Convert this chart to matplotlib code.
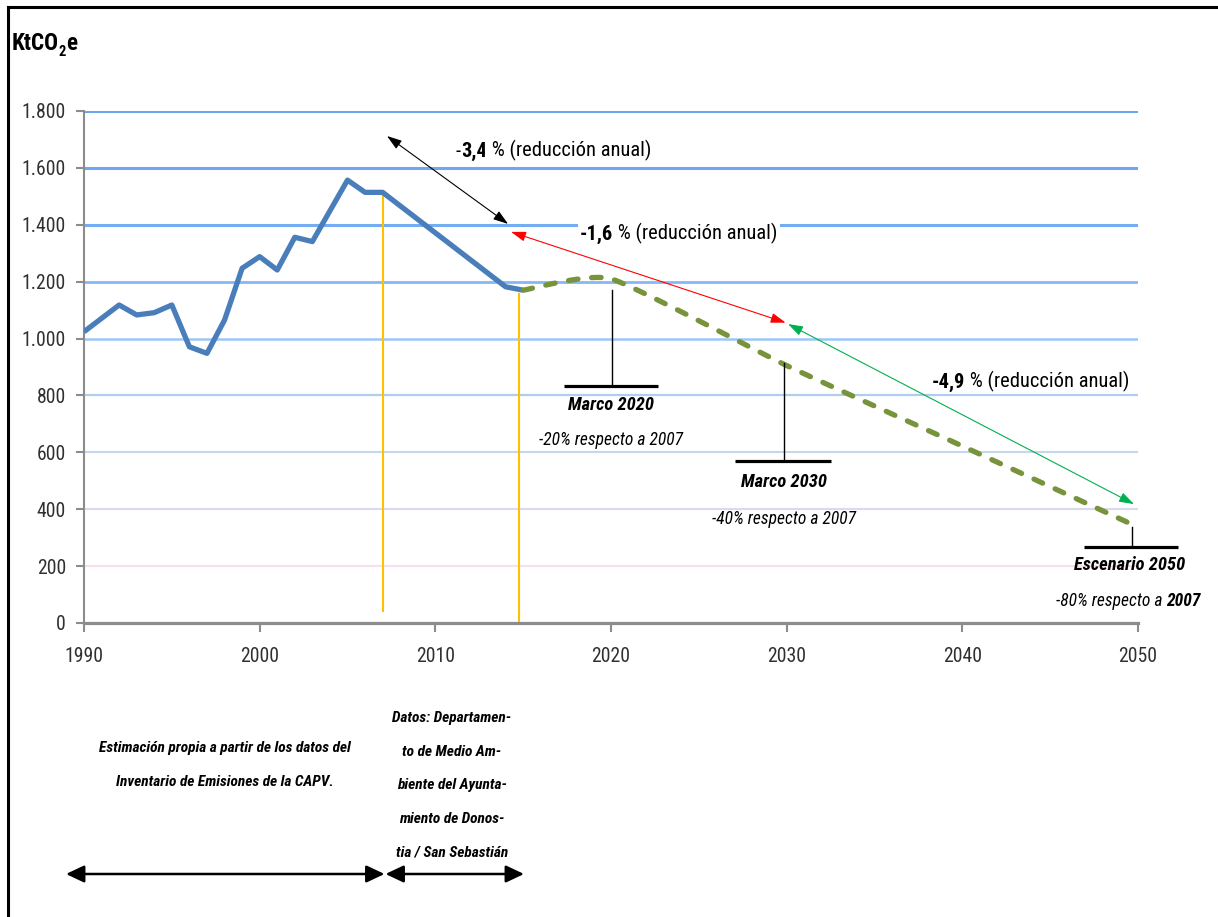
import matplotlib
matplotlib.use("Agg")
import matplotlib.pyplot as plt
from matplotlib import font_manager as fm
from matplotlib.transforms import Affine2D
from matplotlib.lines import Line2D
from matplotlib.patches import FancyArrowPatch
import numpy as np

# ---------------- data ----------------
hist_years = [1990, 1991, 1992, 1993, 1994, 1995, 1996, 1997, 1998, 1999,
              2000, 2001, 2002, 2003, 2005, 2006, 2007, 2014, 2015]
hist_values = [1024, 1071, 1118, 1083, 1091, 1118, 971, 948, 1065, 1247,
               1288, 1241, 1356, 1341, 1557, 1514, 1514, 1182, 1170]

proj_years = [2015, 2020, 2030, 2040, 2050]
proj_values = [1170, 1210, 905, 622, 337]

y_ticks = [0, 200, 400, 600, 800, 1000, 1200, 1400, 1600, 1800]
y_tick_labels = ["0", "200", "400", "600", "800", "1.000", "1.200", "1.400", "1.600", "1.800"]
x_ticks = [1990, 2000, 2010, 2020, 2030, 2040, 2050]
x_tick_labels = ["1990", "2000", "2010", "2020", "2030", "2040", "2050"]

marker_years = [2007, 2014.75]          # yellow reference verticals

# ---------------- style ----------------
# grid colour / width for 200 ... 1800
grid_colors = ["#f7dff0", "#d9d9f1", "#c6d6ec", "#afcdee", "#9cc6f6",
               "#85b8f5", "#75adf2", "#6ea8f0", "#6aa5ee"]
grid_widths = [1.5, 1.5, 1.5, 1.6, 1.8, 2.0, 2.2, 2.2, 2.2]

ttf = fm.fontManager.ttflist
names = {f.name for f in ttf}
cond = {f.name for f in ttf if str(f.stretch) in
        ("condensed", "semi-condensed", "extra-condensed", "ultra-condensed")}
if "Liberation Sans Narrow" in names:
    FONT, K, STRETCH = "Liberation Sans Narrow", 1.0, "normal"
elif "Roboto Condensed" in names:
    FONT, K, STRETCH = "Roboto Condensed", 0.95, "normal"
elif "Noto Sans" in cond:
    FONT, K, STRETCH = "Noto Sans", 0.9, "condensed"
elif "Open Sans" in cond:
    FONT, K, STRETCH = "Open Sans", 0.9, "condensed"
elif "DejaVu Sans" in cond:
    FONT, K, STRETCH = "DejaVu Sans", 0.84, "condensed"
else:
    FONT, K, STRETCH = "Liberation Sans", 0.88, "normal"
FAM = [FONT, "DejaVu Sans"]
plt.rcParams["font.family"] = FAM
plt.rcParams["font.stretch"] = STRETCH

W, H = 1218, 917
fig = plt.figure(figsize=(W / 100, H / 100), dpi=100)
fig.patch.set_facecolor("white")

# pixel-space transform for layout text (origin top-left)
T = Affine2D().scale(1 / W, -1 / H).translate(0, 1) + fig.transFigure

ax = fig.add_axes([84 / W, 1 - 623 / H, (1138 - 84) / W, (623 - 111) / H])
ax.set_xlim(1990, 2050)
ax.set_ylim(0, 1800)
ax.set_facecolor("none")

for s in ["top", "right"]:
    ax.spines[s].set_visible(False)
ax.spines["left"].set_color("#8c8c8c")
ax.spines["left"].set_linewidth(1.5)
ax.spines["bottom"].set_color("#8c8c8c")
ax.spines["bottom"].set_linewidth(2.3)

ax.set_yticks(y_ticks)
ax.set_yticklabels(y_tick_labels)
ax.set_xticks(x_ticks)
ax.set_xticklabels(x_tick_labels)
ax.tick_params(axis="y", length=6, width=1.5, color="#8c8c8c", pad=7,
               labelsize=15 * K, labelcolor="#303030")
ax.tick_params(axis="x", length=6.5, width=1.5, color="#8c8c8c", pad=11,
               labelsize=15 * K, labelcolor="#303030")

# horizontal grid
for yv, c, lw in zip(y_ticks[1:], grid_colors, grid_widths):
    ax.axhline(yv, color=c, lw=lw, zorder=0.5, solid_capstyle="butt")

# yellow reference verticals
ax.vlines(marker_years[0], 40, hist_values[hist_years.index(2007)], color="#ffc000", lw=1.5, zorder=2)
ax.vlines(marker_years[1], 0, 1160, color="#ffc000", lw=1.5, zorder=2)

# historical emissions
ax.plot(hist_years, hist_values, color="#4a7ebb", lw=3.8, zorder=4,
        solid_joinstyle="round", solid_capstyle="butt")


# projected path, lightly smoothed like a spreadsheet curve
def smooth(xs, ys, n=30, tension=12.0):
    pts = ax.transData.transform(np.column_stack([xs, ys]))
    P = np.vstack([pts[0], pts, pts[-1]])
    out = []
    for i in range(1, len(P) - 2):
        p0, p1, p2, p3 = P[i - 1], P[i], P[i + 1], P[i + 2]
        b1 = p1 + (p2 - p0) / tension
        b2 = p2 - (p3 - p1) / tension
        t = np.linspace(0, 1, n)[:, None]
        seg = ((1 - t) ** 3) * p1 + 3 * ((1 - t) ** 2) * t * b1 + 3 * (1 - t) * t ** 2 * b2 + t ** 3 * p2
        out.append(seg if i == 1 else seg[1:])
    return ax.transData.inverted().transform(np.vstack(out))


sm = smooth(proj_years, proj_values)
ax.plot(sm[:, 0], sm[:, 1], color="#77933c", lw=3.8, zorder=4,
        dashes=(1.8, 2.6), dash_capstyle="round")


# rate arrows
def dbl_arrow(p0, p1, color):
    ax.annotate("", xy=p1, xytext=p0, xycoords="data",
                arrowprops=dict(arrowstyle="<|-|>,head_length=0.6,head_width=0.2",
                                color=color, lw=0.8, shrinkA=0, shrinkB=0,
                                mutation_scale=15), zorder=6, annotation_clip=False)


dbl_arrow((2007.25, 1712), (2014.14, 1403), "black")
dbl_arrow((2014.31, 1375), (2029.94, 1056), "#ff0000")
dbl_arrow((2030.08, 1051), (2049.77, 418), "#00b050")


def chain(x, y, parts, size, bg=False, color="black"):
    """Draw consecutive text runs (text, weight, style) on one baseline."""
    bbox = dict(facecolor="white", edgecolor="none", pad=1.5) if bg else None
    prev = None
    for txt, wt, st in parts:
        if prev is None:
            prev = fig.text(x, y, txt, transform=T, ha="left", va="baseline",
                            fontsize=size, fontweight=wt, fontstyle=st,
                            color=color, bbox=bbox, zorder=7)
        else:
            prev = ax.annotate(txt, xy=(1, 0), xycoords=prev, ha="left",
                               va="bottom", fontsize=size, fontweight=wt,
                               fontstyle=st, color=color, bbox=bbox,
                               zorder=7, annotation_clip=False)
    return prev


chain(456, 157, [("-", "normal", "normal"), ("3,4", "bold", "normal"),
                 (" % (reducción anual)", "normal", "normal")], 15.5 * K, bg=True)
chain(580, 240, [("-1,6", "bold", "normal"),
                 (" % (reducción anual)", "normal", "normal")], 15.5 * K, bg=True)
chain(932, 388, [("-4,9", "bold", "normal"),
                 (" % (reducción anual)", "normal", "normal")], 15.5 * K, bg=True)


# milestone brackets
def bracket(xc, ytop, ybot, x0, x1):
    ax.plot([xc, xc], [ytop, ybot], color="black", lw=1.0, zorder=5, clip_on=False)
    ax.plot([x0, x1], [ybot, ybot], color="black", lw=2.3, zorder=5, clip_on=False,
            solid_capstyle="butt")


bracket(2020.05, 1170, 834, 2017.3, 2022.7)
bracket(2029.85, 915, 570, 2027.05, 2032.5)
bracket(2049.64, 337, 268, 2046.9, 2052.3)

fig.text(611, 410, "Marco 2020", transform=T, ha="center", va="baseline",
         fontsize=14 * K, fontweight="bold", fontstyle="italic")
fig.text(611, 445, "-20% respecto a 2007", transform=T, ha="center", va="baseline",
         fontsize=13.3 * K, fontstyle="italic")
fig.text(784, 487, "Marco 2030", transform=T, ha="center", va="baseline",
         fontsize=14 * K, fontweight="bold", fontstyle="italic")
fig.text(784, 524, "-40% respecto a 2007", transform=T, ha="center", va="baseline",
         fontsize=13.3 * K, fontstyle="italic")
fig.text(1130, 570, "Escenario 2050", transform=T, ha="center", va="baseline",
         fontsize=14 * K, fontweight="bold", fontstyle="italic")
chain(1056, 606, [("-80% respecto a ", "normal", "italic"),
                  ("2007", "bold", "italic")], 13.3 * K)

# unit label
t1 = fig.text(12, 50, "KtCO", transform=T, ha="left", va="baseline",
              fontsize=17.5 * K, fontweight="bold")
t2 = ax.annotate("2", xy=(1, 0), xycoords=t1, xytext=(-0.5, -3), textcoords="offset points",
                 ha="left", va="bottom", fontsize=11 * K, fontweight="bold",
                 annotation_clip=False)
ax.annotate("e", xy=(1, 0), xycoords=(t2, t1), ha="left", va="bottom",
            fontsize=17.5 * K, fontweight="bold", annotation_clip=False)

# source notes
fs_note = 11.7 * K
fig.text(224.5, 752, "Estimación propia a partir de los datos del", transform=T,
         ha="center", va="baseline", fontsize=fs_note, fontweight="bold", fontstyle="italic")
fig.text(224.5, 786, "Inventario de Emisiones de la CAPV.", transform=T,
         ha="center", va="baseline", fontsize=fs_note, fontweight="bold", fontstyle="italic")
for i, line in enumerate(["Datos: Departamen-", "to de Medio Am-", "biente del Ayunta-",
                          "miento de Donos-", "tia / San Sebastián"]):
    fig.text(452, 722 + 33.7 * i, line, transform=T, ha="center", va="baseline",
             fontsize=fs_note, fontweight="bold", fontstyle="italic")

for a, b in [(66, 384.5), (385.5, 524)]:
    fig.add_artist(FancyArrowPatch(
        (a, 874), (b, 874), transform=T,
        arrowstyle="<|-|>,head_length=0.55,head_width=0.26", mutation_scale=20,
        color="black", lw=1.8, shrinkA=0, shrinkB=0))

# frame (top and left edges)
fig.add_artist(Line2D([8, W + 5], [7, 7], transform=T, color="black", lw=2.2))
fig.add_artist(Line2D([8, 8], [7, H + 5], transform=T, color="black", lw=2.2))

fig.savefig("out.png", dpi=100, facecolor="white")
